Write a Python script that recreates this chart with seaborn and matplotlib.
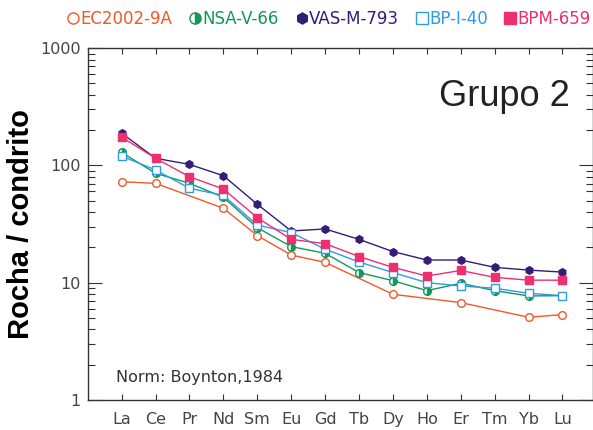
import numpy as np
import pandas as pd
import matplotlib
matplotlib.use("Agg")
import matplotlib.pyplot as plt
import seaborn as sns
from matplotlib.lines import Line2D
from matplotlib.ticker import LogLocator, NullFormatter, FixedLocator, FixedFormatter

nan = np.nan
elements = ['La', 'Ce', 'Pr', 'Nd', 'Sm', 'Eu', 'Gd', 'Tb', 'Dy', 'Ho', 'Er', 'Tm', 'Yb', 'Lu']
ec2002_9a = [72.6, 70.3, nan, 43.1, 25.2, 17.2, 14.9, nan, 7.96, nan, 6.76, nan, 5.07, 5.34]
nsa_v_66 = [129, 85.6, 70.4, 53.5, 29.4, 20.3, 17.8, 12.2, 10.4, 8.55, 9.88, 8.55, 7.7, 7.75]
vas_m_793 = [188, 115, 102, 81.7, 46.6, 27.6, 28.7, 23.4, 18.4, 15.6, 15.6, 13.5, 12.8, 12.3]
bp_i_40 = [120, 91.4, 63.8, 55.5, 31.0, 26.7, 19.3, 15.0, 12.2, 10.0, 9.37, 8.96, 8.11, 7.75]
bpm_659 = [174, 115, 80, 62.9, 35.8, 23.4, 21.5, 16.7, 13.5, 11.4, 12.7, 11.1, 10.5, 10.5]

series_names = ['EC2002-9A', 'NSA-V-66', 'VAS-M-793', 'BP-I-40', 'BPM-659']
series_values = [ec2002_9a, nsa_v_66, vas_m_793, bp_i_40, bpm_659]
colors = ['#F0582A', '#12985A', '#351C78', '#2F9BE3', '#EE2F70']
markers = ['o', 'o', 'h', 's', 's']
fills = ['none', 'half', 'full', 'none', 'full']

sns.set_theme(style="ticks")
plt.rcParams['font.family'] = ['DejaVu Sans']

fig = plt.figure(figsize=(5.93, 4.30), dpi=100)
ax = fig.add_axes([0.148, 0.070, 0.852, 0.818])

pos = np.arange(len(elements))
for name, vals, c, m, f in zip(series_names, series_values, colors, markers, fills):
    df = pd.DataFrame({'x': pos, 'y': vals}).dropna()
    kw = dict(marker=m, markersize=5.5, markeredgewidth=1.0, markeredgecolor=c)
    if f == 'none':
        kw['markerfacecolor'] = 'white'
    elif f == 'half':
        kw['fillstyle'] = 'right'
        kw['markerfacecoloralt'] = 'white'
        kw['markerfacecolor'] = c
    else:
        kw['markerfacecolor'] = c
    sns.lineplot(data=df, x='x', y='y', color=c, linewidth=1.0, ax=ax,
                 legend=False, **kw)

ax.set_yscale('log')
ax.set_ylim(1, 1000)
ax.set_xlim(-1.0, 13.9)
ax.xaxis.set_major_locator(FixedLocator(pos))
ax.xaxis.set_major_formatter(FixedFormatter(elements))
ax.yaxis.set_major_locator(FixedLocator([1, 10, 100, 1000]))
ax.yaxis.set_major_formatter(FixedFormatter(['1', '10', '100', '1000']))
ax.yaxis.set_minor_locator(LogLocator(base=10, subs=np.arange(2, 10)))
ax.yaxis.set_minor_formatter(NullFormatter())

for s in ax.spines.values():
    s.set_color('#333333')
    s.set_linewidth(1.0)

ax.tick_params(axis='x', which='major', direction='in', length=4, width=0.8,
               top=True, bottom=True, pad=9, labelsize=11.5, colors='#333333',
               labelcolor='#444444')
ax.tick_params(axis='y', which='major', direction='in', length=10, width=0.8,
               left=True, right=True, pad=5, labelsize=11.5, colors='#333333',
               labelcolor='#444444')
ax.tick_params(axis='y', which='minor', direction='in', length=5, width=0.8,
               left=True, right=True, colors='#333333')

ax.set_xlabel('')
ax.set_ylabel('Rocha / condrito', fontsize=21, fontweight='bold',
              family=['Liberation Sans'], labelpad=4, color='black')

ax.text(0.955, 0.862, 'Grupo 2', transform=ax.transAxes, ha='right', va='center',
        fontsize=26, family=['Liberation Sans'], color='#222222')
ax.text(0.055, 0.065, 'Norm: Boynton,1984', transform=ax.transAxes, ha='left',
        va='center', fontsize=11.5, color='#333333')

handles = []
for c, m, f in zip(colors, markers, fills):
    kw = dict(marker=m, linestyle='none', markersize=8, markeredgecolor=c,
              markeredgewidth=1.0, color=c)
    if f == 'none':
        kw['markerfacecolor'] = 'white'
    elif f == 'half':
        kw['fillstyle'] = 'right'
        kw['markerfacecolor'] = c
        kw['markerfacecoloralt'] = 'white'
    else:
        kw['markerfacecolor'] = c
    handles.append(Line2D([], [], **kw))

leg = fig.legend(handles, series_names, loc='upper right', bbox_to_anchor=(1.022, 1.012),
                 ncol=5, frameon=False, handletextpad=0.05, columnspacing=0.95,
                 handlelength=0.8, fontsize=12)
for t, c in zip(leg.get_texts(), colors):
    t.set_color(c)

fig.savefig('out.png', dpi=100)
